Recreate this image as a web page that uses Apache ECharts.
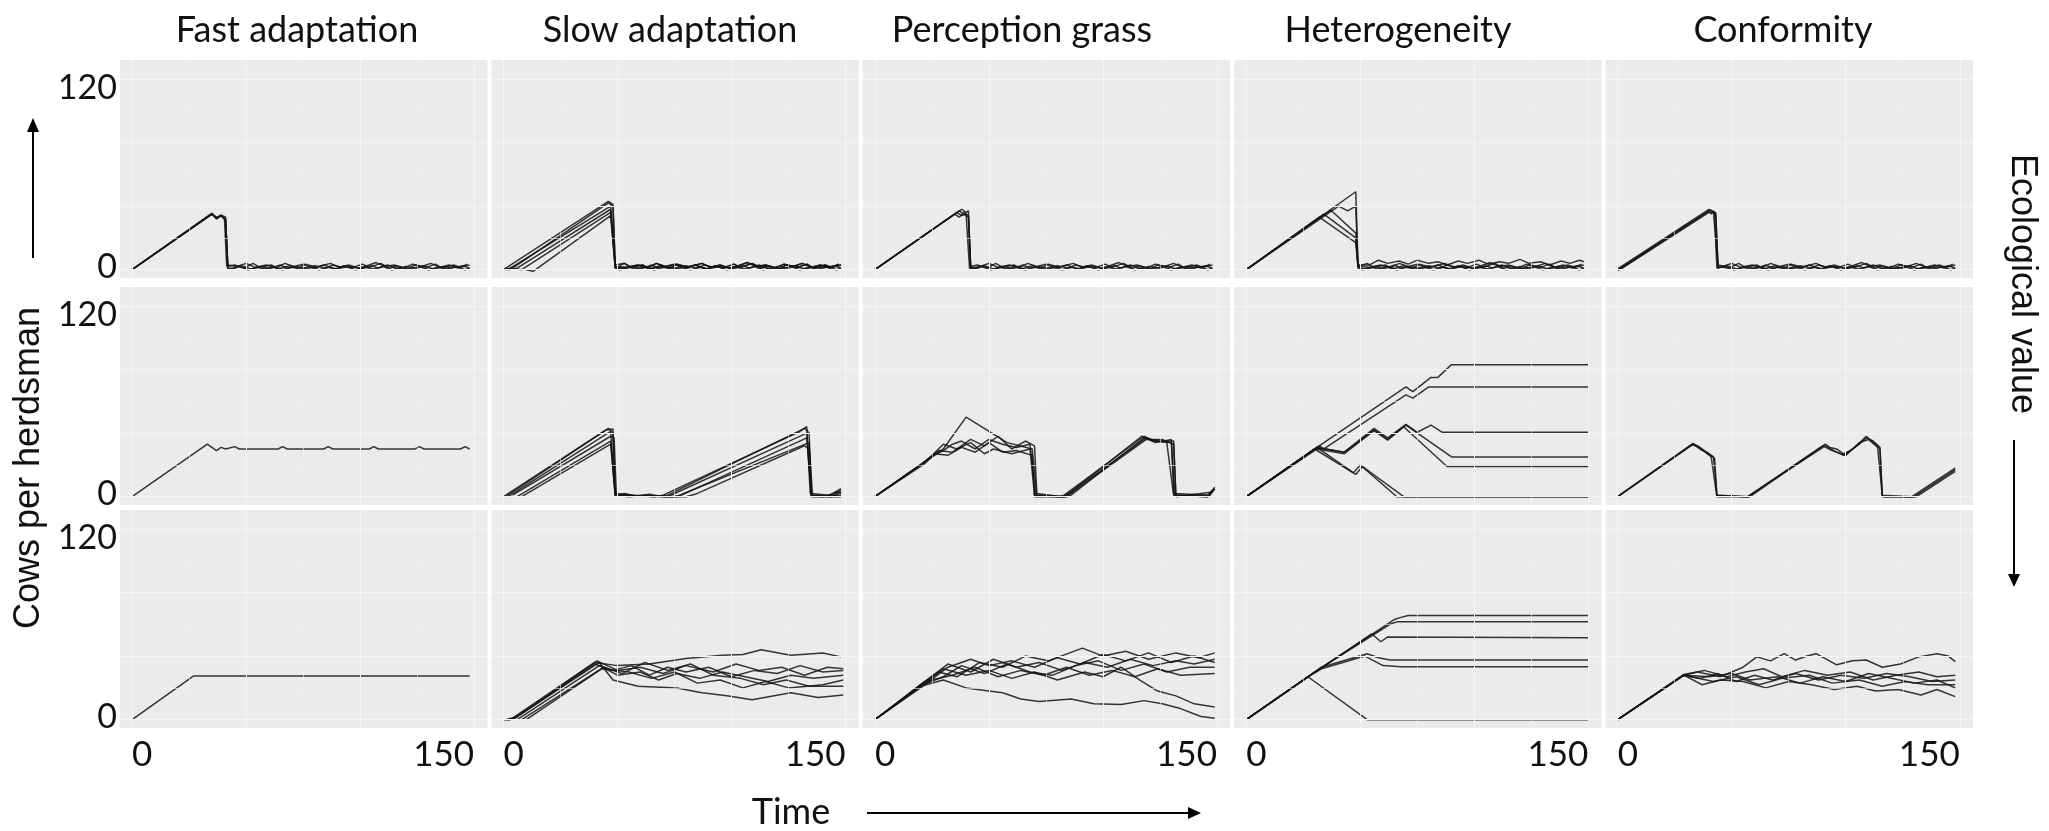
<!DOCTYPE html>
<html><head><meta charset="utf-8">
<script src="https://cdn.jsdelivr.net/npm/echarts@6/dist/echarts.min.js"></script>
<style>html,body{margin:0;padding:0;background:#fff}#c{width:2049px;height:831px}</style>
</head><body><div id="c"></div>
<script>
// ---------- labels & ticks ----------
const columnTitles = ['Fast adaptation', 'Slow adaptation', 'Perception grass', 'Heterogeneity', 'Conformity'];
const yAxisTitle = 'Cows per herdsman';
const xAxisTitle = 'Time';
const rightTitle = 'Ecological value';
const xMajorTicks = [0, 50, 100, 150];
const xMinorTicks = [25, 75, 125];
const yMajorTicks = [0, 40, 80, 120];
const yMinorTicks = [20, 60, 100];
const xTickLabels = [0, 150];
const yTickLabels = [0, 120];

// ---------- noise tails after collapse (time, cows) ----------
const noiseA = [45,3, 49,1, 53,4, 56,1.5, 61,3, 64,0.5, 69,2.5, 73,1, 76,3.5, 81,1.5, 84,3, 89,0.5, 93,2.5, 96,1, 101,3.5, 104,1.5, 109,4, 113,1, 116,2.5, 121,0.5, 124,3, 129,1.5, 133,3.5, 136,1, 141,3, 144,1.5, 148,3];
const noiseB = [44,1, 48,2.5, 52,0.5, 57,2, 60,0.5, 65,3, 68,1, 72,2, 77,0.5, 80,2.5, 85,1, 88,3, 92,1.5, 97,2, 100,0.5, 105,2.5, 108,1, 112,3, 117,0.5, 120,2, 125,1, 128,2.5, 132,0.5, 137,2, 140,1, 145,2.5, 148,1];
const noiseC = [50,5, 54,3, 58,6, 62,4, 67,5.5, 71,3.5, 75,6, 80,4, 84,5, 88,3, 93,5.5, 97,4, 102,6, 106,3.5, 111,5, 115,4, 120,6.5, 124,4, 129,5, 133,3, 138,5.5, 142,4, 146,6, 148,5];
const noiseD = [46,2, 50,4, 54,1.5, 59,3, 63,1, 67,4, 71,2, 75,3.5, 79,1, 83,2.5, 87,4, 91,1.5, 95,3, 99,1, 103,2.5, 107,4.5, 111,2, 115,3, 119,1, 123,3.5, 127,2, 131,4, 135,1.5, 139,3, 143,1, 147,3.5];
const noiseE = [44,0.5, 47,2, 51,0, 55,1.5, 58,0.5, 62,2, 66,0, 70,1.5, 74,0.5, 78,2, 82,0, 86,1.5, 90,0.5, 94,2, 98,0, 102,1.5, 106,0.5, 110,2, 114,0, 118,1.5, 122,0.5, 126,2, 130,0, 134,1.5, 138,0.5, 142,2, 146,0, 148,1];

// ---------- row 1 ----------
const fastR1 = [
  [[0,0, 35,35, 37,32, 39,34, 40.5,32, 41.5,2], noiseA],
  [[0,0, 35,35.5, 37,32.5, 39,34.5, 41,33, 42,1], noiseB],
  [[0,0, 35,35, 37,33, 39,34, 41,31, 42,3], noiseD],
  [[0,0, 35,35, 37,32, 39,34, 41,32, 42,0.5], noiseE]
];
const slowR1 = [
  [[0,0, 46,43, 48,41, 49,3], noiseA],
  [[0,0, 3,1, 47,40, 49,2], noiseB],
  [[2,0, 6,1, 47,38, 49,1], noiseD],
  [[4,1, 8,0, 47,36, 49,2], noiseE],
  [[10,0, 13,-1, 47,34, 49,1], noiseA],
  [[1,0, 5,2, 46,42, 48,40, 49,2], noiseD]
];
const percR1 = [
  [[0,0, 38,38, 40,36, 41,37, 42,2], noiseA],
  [[0,0, 36,36, 38,34, 40,35, 41.5,1], noiseB],
  [[0,0, 35,35, 37,33, 39,36, 41,34, 42,1], noiseD],
  [[0,0, 37,37, 39,35, 41,33, 42,2], noiseE]
];
const heteroR1 = [
  [[0,0, 48,49, 49,3], noiseC],
  [[0,0, 32,33, 48,17, 49,2], noiseA],
  [[0,0, 34,35, 48,20, 49,1], noiseB],
  [[0,0, 37,37.5, 48,23, 49,2], noiseD],
  [[0,0, 40.5,40, 44.5,37, 48,40, 49,2], noiseE]
];
const confR1 = [
  [[0,0, 40,37, 41,35, 42,37, 43,34, 44,2], noiseA],
  [[0,-0.5, 39,36, 41,37.5, 42.5,35, 43.5,1], noiseB],
  [[1,0, 40,36, 43,36, 44,1], noiseD],
  [[0,0.5, 38,36, 40,38, 42,36, 44,3], noiseE]
];

// ---------- row 2 ----------
const fastR2 = [
  [[0,0, 33,33, 37,29, 39,31, 41,30, 45,31.5, 47,30, 64,30, 66,31.5, 68,30, 84,30, 86,31.5, 88,30, 104,30, 106,31.5, 108,30, 124,30, 126,31.5, 128,30, 144,30, 146,31.5, 148,30], null]
];
const slowR2 = [
  [[0,0, 46,43, 48,40, 49,1, 53,2, 58,0.5, 64,1.5, 68,0.5, 72,1, 132,43, 134,40, 135,1, 140,0, 145,2, 148,4], null],
  [[2,0, 47,41, 49,1, 55,0, 62,1, 72,0, 75,2, 133,40, 135,1, 142,0.5, 146,1, 148,3], null],
  [[4,1, 47,38, 48.5,37, 49.5,1, 60,0.5, 74,0, 78,1, 133,37, 135,0.5, 148,1], null],
  [[6,0, 47,35, 49,1, 66,0.5, 76,0, 79,2, 134,34, 135.5,1, 144,0, 147,3, 148,2], null],
  [[8,0, 47,33, 49,0.5, 80,0, 84,1.5, 132,32, 134,30, 135,0, 148,0], null],
  [[1,0, 45,42, 48,42.5, 49,2, 57,1, 66,0, 70,1, 130,41, 133,44, 134.5,2, 143,1, 148,5], null]
];
const percR2 = [
  [[0,0, 22,22, 30,30, 40,50, 58,34, 69,30, 71,1, 80,0, 83,1, 118,38, 121,36, 128,34, 131,1, 146,0, 148,4], null],
  [[0,0, 22,22, 26,26, 30,29, 34,33, 38,35, 44,30, 50,36, 56,33, 62,31, 68,33, 70.5,1, 83,0, 84,1, 119,37, 122,35, 130,34, 131.5,1, 146,0, 149,5], null],
  [[0,0, 20,20, 26,27, 32,26, 38,31, 44,28, 50,34, 56,28, 62,29, 69,26, 70,0, 84,0, 119,36, 126,36, 131,33, 132,0, 148,3], null],
  [[0,0, 22,21, 28,29, 34,28, 42,36, 48,32, 54,38, 60,30, 66,35, 70,32, 71,2, 82,0, 85,2, 117,38, 123,34, 130,36, 131,2, 147,1, 149,5], null],
  [[0,0, 23,23, 30,33, 36,30, 42,34, 48,27, 52,30, 60,27, 68,30, 70,1, 84,0, 86,1, 118,37, 124,35, 131,35, 132,1, 146,1, 149,6], null]
];
const heteroR2 = [
  [[0,0, 31,31, 70,69, 73,66, 81,75, 84,75, 90,83, 150,83], null],
  [[0,0, 32,32, 34,30, 70,64, 73,62, 80,69, 150,69], null],
  [[0,0, 31,31, 43,28, 56,43, 62,37, 70,45.5, 75,40.5, 81,45, 86,40.5, 150,40.5], null],
  [[0,0, 31,31, 43,28, 56,42, 62,36, 70,45, 90,25, 150,25], null],
  [[0,0, 31,30, 43,27, 56,41.5, 62,35.5, 69,44, 88,19, 150,19], null],
  [[0,0, 31,31, 47,15, 50,20, 66,0, 150,0], null],
  [[0,0, 30,30, 48,14, 51,19, 69,0, 150,0], null]
];
const confR2 = [
  [[0,0, 33,33, 36,30, 40,27, 42.5,24, 43.5,1, 44,0, 57,0, 91,33, 93,31, 96,30, 99,27, 102,29, 106,33, 109,37, 112,35, 115,31, 116,1, 117,0, 130,0, 148,17], null],
  [[0,0, 33,33.5, 36,31, 42,25, 43.5,1, 57,0, 91,32, 96,28, 99,26, 104,31, 109,38, 113,33, 115,30, 116,0, 131,0, 148,16], null],
  [[0,0, 32.5,32.5, 35,32, 41,25, 43.5,0, 58,0, 90,32, 94,29, 100,26, 106,34, 110,36, 114,31, 116,1, 129,0, 148,18], null]
];

// ---------- row 3 ----------
const fastR3 = [
  [[0,0, 27,27.5, 148,27.5], null]
];
const slowR3 = [
  [[0,0, 3,0, 40,36, 50,34, 64,35, 80,38.5, 96,40.5, 105,41, 113,44, 126,40.5, 140,42, 148,39.5], null],
  [[2,0, 5,1, 42,36, 48,25, 59,21, 76,20, 87,17, 98,15, 109,12.5, 126,17, 138,14, 149,15.5], null],
  [[4,0, 40,35, 48,31, 56,34, 64,28, 72,33, 80,30, 90,33, 100,27, 110,31, 120,29, 130,34, 140,30, 149,31], null],
  [[1,0, 6,2, 41,37, 50,31, 60,33, 70,29, 80,34, 92,30, 102,35, 112,31, 122,33, 132,28, 142,33, 149,32], null],
  [[6,0, 42,34, 50,28, 60,30, 68,25, 76,29, 86,26, 96,30, 106,27, 116,24, 126,28, 136,26, 149,28], null],
  [[8,0, 44,33, 52,29, 62,36, 72,31, 82,35, 92,28, 104,26, 114,22, 124,25, 134,21, 149,21], null],
  [[10,0, 43,32, 55,30, 65,26, 75,30, 85,23, 95,25, 105,20, 115,24, 125,20, 140,22, 149,25], null]
];
const percR3 = [
  [[0,0, 20,22, 28,30, 36,27, 46,36, 56,33, 66,40, 76,37, 91,45, 100,40, 110,43, 120,38, 132,42, 142,39, 149,42], null],
  [[0,0, 20,21, 30,25, 40,20, 50,18, 56,17, 64,13, 72,11.5, 86,13, 96,10, 108,9.5, 118,12, 126,10, 134,7, 143,2, 149,1], null],
  [[0,0, 22,23, 30,32, 40,28, 50,31, 60,26, 70,30, 80,25, 92,30, 100,27, 108,33, 116,25, 124,18, 132,15, 140,10, 149,8], null],
  [[0,0, 21,23, 32,35, 42,30, 52,38, 62,33, 72,36, 82,31, 92,36, 102,33, 112,38, 122,34, 132,37, 140,35, 149,38], null],
  [[0,0, 22,24, 34,28, 44,33, 54,27, 64,31, 74,28, 84,33, 94,28, 104,31, 114,27, 124,32, 134,28, 149,29], null],
  [[0,0, 21,22, 30,27, 38,34, 48,29, 58,35, 68,30, 78,28, 88,34, 98,37, 108,31, 118,35, 128,30, 138,33, 149,33], null],
  [[0,0, 22,22, 32,33, 42,38, 50,34, 60,37, 70,33, 80,39, 90,35, 100,41, 110,37, 120,42, 130,36, 140,40, 149,36], null]
];
const heteroR3 = [
  [[0,0, 27,27, 53,0, 150,0], null],
  [[0,0, 27,27, 65,63, 67,64, 71,65.5, 150,65.5], null],
  [[0,0, 27,27, 30,30, 63,60, 66,61.5, 150,61.5], null],
  [[0,0, 27,27, 55,54, 59,49, 62,52, 150,51.5], null],
  [[0,0, 27,27, 33,33, 53,41.5, 58,39, 63,37.5, 150,37.5], null],
  [[0,0, 27,27, 33,32, 52,40, 60,34, 68,33.3, 150,33.3], null]
];
const confR3 = [
  [[0,0, 29,28, 35,30, 45,27, 55,33, 61,39.5, 67,37, 73,41.5, 78,37.5, 83,40, 87,41.5, 96,34.5, 103,37, 109,37.5, 116,33, 124,35, 132,39.5, 140,41.5, 145,40, 148,36.5], null],
  [[0,0, 29,28, 37,22, 45,25, 55,24, 65,20, 75,24, 85,22, 95,19, 105,21, 113,18, 123,19, 133,15.5, 140,19, 148,14.5], null],
  [[0,0, 29,28, 36,26, 44,29, 52,24, 60,28, 68,25, 78,29, 88,25, 98,28, 108,26, 118,29, 128,27, 138,24, 148,25], null],
  [[0,0, 29,28.5, 38,31, 48,27, 56,30, 64,32, 72,27, 82,31, 92,28, 102,30, 112,25, 122,28, 132,30, 140,27, 148,28], null],
  [[0,0, 29,28, 40,27, 50,29, 58,25, 70,27, 80,23, 90,27, 100,24, 110,29, 120,26, 130,23, 140,25, 148,20], null],
  [[0,0, 29,28, 42,24, 52,27, 62,22, 72,26, 84,28, 94,23, 106,25, 116,21, 126,24, 136,22, 148,22], null]
];

const panels = [
  [fastR1, slowR1, percR1, heteroR1, confR1],
  [fastR2, slowR2, percR2, heteroR2, confR2],
  [fastR3, slowR3, percR3, heteroR3, confR3]
];

// ---------- layout ----------
const colLeft = [120, 491.4, 862.8, 1234.2, 1605.6];
const rowTop = [60, 287, 510];
const panelW = 367.4, panelH = 218;
const X_MIN = -5.3, X_MAX = 155.8, Y_MIN = -5.2, Y_MAX = 131.8;
const FONT = 'Lato, "Open Sans", sans-serif';

function joinLine(head, tail) {
  const out = head.slice();
  if (tail) {
    const last = head[head.length - 2];
    for (let i = 0; i < tail.length; i += 2) if (tail[i] > last + 1) out.push(tail[i], tail[i + 1]);
  }
  const pairs = [];
  for (let i = 0; i < out.length; i += 2) pairs.push([out[i], out[i + 1]]);
  return pairs;
}

const grids = [], xAxes = [], yAxes = [], series = [];
panels.forEach((row, r) => row.forEach((lines, c) => {
  const gi = r * 5 + c;
  grids.push({ left: colLeft[c], top: rowTop[r], width: panelW, height: panelH,
    show: true, backgroundColor: '#EBEBEB', borderWidth: 0, containLabel: false, outerBoundsMode: 'none' });
  xAxes.push({ gridIndex: gi, type: 'value', min: X_MIN, max: X_MAX,
    axisLine: { show: false }, splitLine: { show: false },
    axisTick: { show: true, customValues: xMajorTicks, length: 3, lineStyle: { color: '#c4c4c4', width: 1 } },
    axisLabel: r === 2 ? { show: true, customValues: xTickLabels, fontSize: 35, fontFamily: FONT, color: '#111',
      margin: 9, alignMinLabel: 'left', alignMaxLabel: 'right' } : { show: false } });
  yAxes.push({ gridIndex: gi, type: 'value', min: Y_MIN, max: Y_MAX,
    axisLine: { show: false }, splitLine: { show: false }, axisTick: { show: false },
    axisLabel: c === 0 ? { show: true, customValues: yTickLabels, fontSize: 34, fontFamily: FONT, color: '#111', margin: 3,
      formatter: v => (v === 120 ? '{h|' + v + '}' : '{z|' + v + '}'),
      rich: { h: { fontSize: 34, fontFamily: FONT, color: '#111', padding: [18, 0, 0, 0] },
              z: { fontSize: 34, fontFamily: FONT, color: '#111', padding: [0, 0, 6, 0] } } } : { show: false } });
  const gridLines = [];
  xMinorTicks.forEach(v => gridLines.push({ xAxis: v, lineStyle: { width: 0.6, color: '#f1f1f1' } }));
  yMinorTicks.forEach(v => gridLines.push({ yAxis: v, lineStyle: { width: 0.6, color: '#f1f1f1' } }));
  xMajorTicks.forEach(v => gridLines.push({ xAxis: v }));
  yMajorTicks.forEach(v => gridLines.push({ yAxis: v }));
  series.push({ type: 'line', xAxisIndex: gi, yAxisIndex: gi, data: [], silent: true, z: 1,
    markLine: { silent: true, symbol: ['none', 'none'], label: { show: false }, animation: false,
      lineStyle: { color: '#f5f5f5', width: 1, type: 'solid', opacity: 1 },
      emphasis: { disabled: true }, data: gridLines } });
  lines.forEach(([head, tail]) => {
    series.push({ type: 'line', xAxisIndex: gi, yAxisIndex: gi, data: joinLine(head, tail),
      showSymbol: false, symbol: 'none', silent: true, z: 2,
      lineStyle: { color: '#141414', width: 1.5, opacity: 0.85 } });
  });
}));

const titleCenters = [297, 670, 1022, 1398, 1783];
const graphic = [];
columnTitles.forEach((t, i) => graphic.push({ type: 'text', x: titleCenters[i], y: 30,
  style: { text: t, font: '36px ' + FONT, fill: '#111', align: 'center', verticalAlign: 'middle' } }));
graphic.push({ type: 'text', x: 29, y: 468, rotation: Math.PI / 2,
  style: { text: yAxisTitle, font: '36px "Liberation Sans", Arial, sans-serif', fill: '#111', align: 'center', verticalAlign: 'middle' } });
graphic.push({ type: 'text', x: 2022, y: 284, rotation: -Math.PI / 2,
  style: { text: rightTitle, font: '36px "Liberation Sans", Arial, sans-serif', fill: '#111', align: 'center', verticalAlign: 'middle' } });
graphic.push({ type: 'text', x: 791, y: 812,
  style: { text: xAxisTitle, font: '36px ' + FONT, fill: '#111', align: 'center', verticalAlign: 'middle' } });
// arrows
graphic.push({ type: 'line', shape: { x1: 33, y1: 258, x2: 33, y2: 128 }, style: { stroke: '#000', lineWidth: 2 } });
graphic.push({ type: 'polygon', shape: { points: [[33, 118], [27, 132], [39, 132]] }, style: { fill: '#000' } });
graphic.push({ type: 'line', shape: { x1: 867, y1: 813, x2: 1192, y2: 813 }, style: { stroke: '#000', lineWidth: 2 } });
graphic.push({ type: 'polygon', shape: { points: [[1201, 813], [1188, 807], [1188, 819]] }, style: { fill: '#000' } });
graphic.push({ type: 'line', shape: { x1: 2014, y1: 440, x2: 2014, y2: 578 }, style: { stroke: '#000', lineWidth: 2 } });
graphic.push({ type: 'polygon', shape: { points: [[2014, 587], [2008, 574], [2020, 574]] }, style: { fill: '#000' } });

const chart = echarts.init(document.getElementById('c'), null, { renderer: 'canvas' });
chart.setOption({ animation: false, backgroundColor: '#fff', grid: grids, xAxis: xAxes, yAxis: yAxes, series, graphic });
</script></body></html>
